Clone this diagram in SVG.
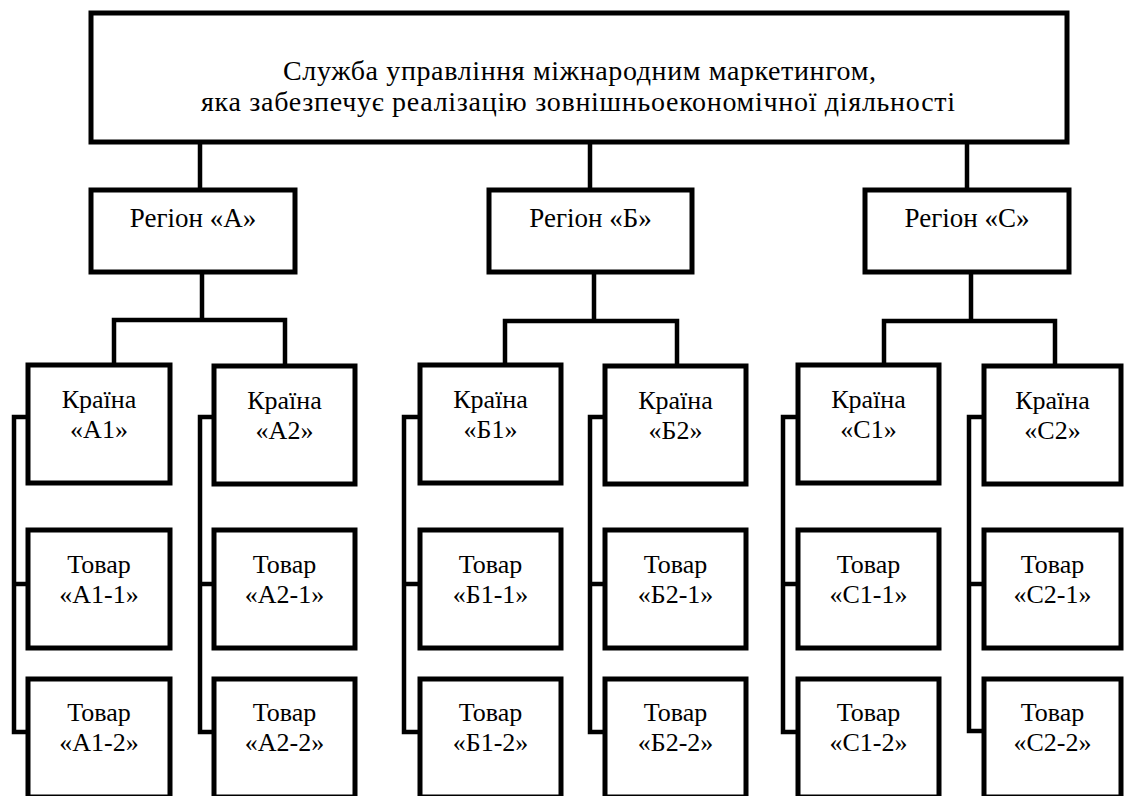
<svg xmlns="http://www.w3.org/2000/svg" width="1124" height="796" viewBox="0 0 1124 796" font-family="'Liberation Serif', 'Times New Roman', serif">
<style>
.box{fill:#fff;stroke:#000;stroke-width:5}
.ln{fill:none;stroke:#000;stroke-width:4.5;stroke-linejoin:miter;stroke-linecap:square}
text{font-family:'Liberation Serif','Times New Roman',serif;font-size:26px;fill:#000;text-anchor:middle}
.tt{font-size:28px}
.rt{font-size:27px}
</style>
<rect width="1124" height="796" fill="#fff"/>
<g id="connectors">
<path class="ln" d="M200,142V190M590,142V190M967,142V190"/>
<path class="ln" d="M202,272V320M114,365V320H285V365"/>
<path class="ln" d="M594,272V321M505,365V321H677V365"/>
<path class="ln" d="M971,272V321M884,365V321H1055V365"/>
<path class="ln" d="M28,417H14V732H28M14,584H28"/>
<path class="ln" d="M214,417H200V732H214M200,584H214"/>
<path class="ln" d="M420,417H404V732H420M404,584H420"/>
<path class="ln" d="M605,417H590V732H605M590,584H605"/>
<path class="ln" d="M798,417H783V732H798M783,584H798"/>
<path class="ln" d="M984,417H969V731H984M969,584H984"/>
</g>
<g id="top"><rect class="box" x="91" y="13" width="976" height="129"/><text class="tt" x="579.5" y="79.5" textLength="593" lengthAdjust="spacing">Служба управління міжнародним маркетингом,</text><text class="tt" x="578" y="110.5" textLength="754" lengthAdjust="spacing">яка забезпечує реалізацію зовнішньоекономічної діяльності</text></g>
<g id="regionA"><rect class="box" x="91" y="190" width="204" height="82"/><text class="rt" x="193" y="227">Регіон «А»</text></g>
<g id="regionB"><rect class="box" x="489" y="190" width="203" height="82"/><text class="rt" x="590.5" y="227">Регіон «Б»</text></g>
<g id="regionC"><rect class="box" x="865" y="190" width="204" height="82"/><text class="rt" x="967" y="227">Регіон «С»</text></g>
<g id="countryA1"><rect class="box" x="28" y="365" width="142" height="118"/><text x="99" y="408">Країна</text><text x="99" y="438">«А1»</text></g>
<g id="countryA2"><rect class="box" x="214" y="366" width="141" height="118"/><text x="284.5" y="409">Країна</text><text x="284.5" y="439">«А2»</text></g>
<g id="countryB1"><rect class="box" x="420" y="365" width="141" height="118"/><text x="490.5" y="408">Країна</text><text x="490.5" y="438">«Б1»</text></g>
<g id="countryB2"><rect class="box" x="605" y="366" width="141" height="118"/><text x="675.5" y="409">Країна</text><text x="675.5" y="439">«Б2»</text></g>
<g id="countryC1"><rect class="box" x="798" y="365" width="141" height="118"/><text x="868.5" y="408">Країна</text><text x="868.5" y="438">«С1»</text></g>
<g id="countryC2"><rect class="box" x="984" y="366" width="137" height="118"/><text x="1052.5" y="409">Країна</text><text x="1052.5" y="439">«С2»</text></g>
<g id="goodsA11"><rect class="box" x="28" y="530" width="142" height="118"/><text x="99" y="573">Товар</text><text x="99" y="603">«А1-1»</text></g>
<g id="goodsA21"><rect class="box" x="214" y="530" width="141" height="118"/><text x="284.5" y="573">Товар</text><text x="284.5" y="603">«А2-1»</text></g>
<g id="goodsB11"><rect class="box" x="420" y="530" width="141" height="118"/><text x="490.5" y="573">Товар</text><text x="490.5" y="603">«Б1-1»</text></g>
<g id="goodsB21"><rect class="box" x="605" y="530" width="141" height="118"/><text x="675.5" y="573">Товар</text><text x="675.5" y="603">«Б2-1»</text></g>
<g id="goodsC11"><rect class="box" x="798" y="530" width="141" height="118"/><text x="868.5" y="573">Товар</text><text x="868.5" y="603">«С1-1»</text></g>
<g id="goodsC21"><rect class="box" x="984" y="530" width="137" height="118"/><text x="1052.5" y="573">Товар</text><text x="1052.5" y="603">«С2-1»</text></g>
<g id="goodsA12"><rect class="box" x="28" y="679" width="142" height="118"/><text x="99" y="721">Товар</text><text x="99" y="751">«А1-2»</text></g>
<g id="goodsA22"><rect class="box" x="214" y="679" width="141" height="118"/><text x="284.5" y="721">Товар</text><text x="284.5" y="751">«А2-2»</text></g>
<g id="goodsB12"><rect class="box" x="420" y="679" width="141" height="118"/><text x="490.5" y="721">Товар</text><text x="490.5" y="751">«Б1-2»</text></g>
<g id="goodsB22"><rect class="box" x="605" y="679" width="141" height="118"/><text x="675.5" y="721">Товар</text><text x="675.5" y="751">«Б2-2»</text></g>
<g id="goodsC12"><rect class="box" x="798" y="679" width="141" height="118"/><text x="868.5" y="721">Товар</text><text x="868.5" y="751">«С1-2»</text></g>
<g id="goodsC22"><rect class="box" x="984" y="679" width="137" height="118"/><text x="1052.5" y="721">Товар</text><text x="1052.5" y="751">«С2-2»</text></g>
</svg>
